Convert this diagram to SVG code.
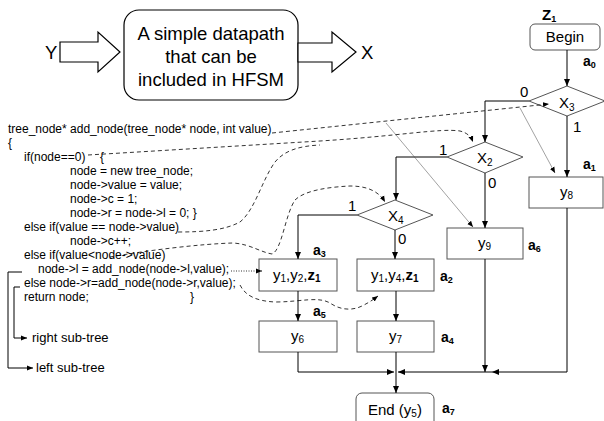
<svg xmlns="http://www.w3.org/2000/svg" width="604" height="421" viewBox="0 0 604 421">
<defs>
<marker id="ah" markerUnits="userSpaceOnUse" markerWidth="8" markerHeight="8" refX="7" refY="4" orient="auto"><path d="M0,1 L7,4 L0,7 Z" fill="#000"/></marker>
<marker id="ahs" markerUnits="userSpaceOnUse" markerWidth="7" markerHeight="6" refX="6" refY="3" orient="auto"><path d="M0,0.5 L6,3 L0,5.5 Z" fill="#000"/></marker>
</defs>
<style>
text{font-family:"Liberation Sans",Arial,sans-serif;fill:#000}
.code{font-size:12px}
.big{font-size:18.5px}
.n{font-size:15px}
.lbl{font-size:14px;font-weight:bold}
.box{fill:#fff;stroke:#555;stroke-width:1}
.blk{fill:#fff;stroke:#000;stroke-width:1.2}
.ln{fill:none;stroke:#000;stroke-width:1}
.dash{fill:none;stroke:#000;stroke-width:0.8;stroke-dasharray:4 3}
.dot{fill:none;stroke:#000;stroke-width:0.8;stroke-dasharray:1 1.5}
.thin{fill:none;stroke:#444;stroke-width:0.5}
</style>
<rect width="604" height="421" fill="#fff"/>

<g id="datapath">
<path class="blk" d="M60,42 H98 V32 L120,52 L98,72 V62 H60 Z"/>
<text class="big" x="45" y="59">Y</text>
<rect class="blk" x="124" y="10" width="174" height="90" rx="15"/>
<text class="big" text-anchor="middle" x="211" y="40">A simple datapath</text>
<text class="big" text-anchor="middle" x="211" y="63">that can be</text>
<text class="big" text-anchor="middle" x="211" y="86">included in HFSM</text>
<path class="blk" d="M298,43 H332 V32 L356,52 L332,72 V62 H298 Z"/>
<text class="big" x="361" y="59">X</text>
</g>

<g id="code" class="code">
<text class="code" x="8" y="133">tree_node* add_node(tree_node* node, int value)</text>
<text class="code" x="8" y="147">{</text>
<text class="code" x="24" y="161">if(node==0)</text>
<text class="code" x="100" y="161">{</text>
<text class="code" x="70" y="175">node = new tree_node;</text>
<text class="code" x="70" y="189">node-&gt;value = value;</text>
<text class="code" x="70" y="203">node-&gt;c = 1;</text>
<text class="code" x="70" y="217">node-&gt;r = node-&gt;l = 0; }</text>
<text class="code" x="24" y="231">else if(value == node-&gt;value)</text>
<text class="code" x="70" y="245">node-&gt;c++;</text>
<text class="code" x="24" y="259">else if(value&lt;node-&gt;value)</text>
<text class="code" x="38" y="273">node-&gt;l = add_node(node-&gt;l,value);</text>
<text class="code" x="24" y="287">else node-&gt;r=add_node(node-&gt;r,value);</text>
<text class="code" x="24" y="301">return node;</text>
<text class="code" x="190" y="301">}</text>
</g>

<g id="subtrees">
<text x="32" y="342" style="font-size:13px">right sub-tree</text>
<text x="36" y="372" style="font-size:13px">left sub-tree</text>
</g>

<g id="begin">
<text class="lbl" x="542" y="20" style="font-size:15px">Z<tspan dy="2" style="font-size:9px">1</tspan></text>
<rect class="box" x="530" y="24" width="70" height="26" rx="5"/>
<text class="n" text-anchor="middle" x="565" y="42">Begin</text>
<text class="lbl" x="583" y="66">a<tspan dy="2" style="font-size:9px">0</tspan></text>
</g>

<g id="x3">
<path class="box" d="M567,86 L605,101 L567,116 L529,101 Z"/>
<text class="n" x="559" y="108">X<tspan dy="3" style="font-size:10px">3</tspan></text>
<text class="n" x="520" y="97">0</text>
<text class="n" x="573" y="132">1</text>
</g>

<g id="y8">
<rect class="box" x="529" y="177" width="74" height="31"/>
<text class="n" x="560" y="197">y<tspan dy="2" style="font-size:10px">8</tspan></text>
<text class="lbl" x="583" y="169">a<tspan dy="2" style="font-size:9px">1</tspan></text>
</g>

<g id="x2">
<path class="box" d="M485,142 L523,157 L485,173 L447,157 Z"/>
<text class="n" x="477" y="163">X<tspan dy="3" style="font-size:10px">2</tspan></text>
<text class="n" x="439" y="155">1</text>
<text class="n" x="488" y="188">0</text>
</g>

<g id="y9">
<rect class="box" x="447" y="228" width="76" height="31"/>
<text class="n" x="478" y="248">y<tspan dy="2" style="font-size:10px">9</tspan></text>
<text class="lbl" x="528" y="250">a<tspan dy="2" style="font-size:9px">6</tspan></text>
</g>

<g id="x4">
<path class="box" d="M395,200 L433,215 L395,230 L357,215 Z"/>
<text class="n" x="388" y="221">X<tspan dy="3" style="font-size:10px">4</tspan></text>
<text class="n" x="348" y="211">1</text>
<text class="n" x="398" y="244">0</text>
</g>

<g id="y1y2z1">
<rect class="box" x="259" y="259" width="78" height="32"/>
<text class="n" x="273" y="280">y<tspan dy="2" style="font-size:10px">1</tspan><tspan dy="-2">,y</tspan><tspan dy="2" style="font-size:10px">2</tspan><tspan dy="-2">,</tspan><tspan font-weight="bold">z</tspan><tspan dy="2" style="font-size:10px;font-weight:bold">1</tspan></text>
<text class="lbl" x="313" y="255">a<tspan dy="2" style="font-size:9px">3</tspan></text>
</g>

<g id="y1y4z1">
<rect class="box" x="357" y="259" width="77" height="32"/>
<text class="n" x="371" y="280">y<tspan dy="2" style="font-size:10px">1</tspan><tspan dy="-2">,y</tspan><tspan dy="2" style="font-size:10px">4</tspan><tspan dy="-2">,</tspan><tspan font-weight="bold">z</tspan><tspan dy="2" style="font-size:10px;font-weight:bold">1</tspan></text>
<text class="lbl" x="440" y="281">a<tspan dy="2" style="font-size:9px">2</tspan></text>
</g>

<g id="y6">
<rect class="box" x="259" y="321" width="78" height="31"/>
<text class="n" x="291" y="341">y<tspan dy="2" style="font-size:10px">6</tspan></text>
<text class="lbl" x="313" y="316">a<tspan dy="2" style="font-size:9px">5</tspan></text>
</g>

<g id="y7">
<rect class="box" x="357" y="321" width="77" height="31"/>
<text class="n" x="389" y="341">y<tspan dy="2" style="font-size:10px">7</tspan></text>
<text class="lbl" x="441" y="342">a<tspan dy="2" style="font-size:9px">4</tspan></text>
</g>

<g id="end">
<rect class="box" x="356" y="393" width="78" height="40" rx="6"/>
<text class="n" x="368" y="415">End (y<tspan dy="2" style="font-size:10px">5</tspan><tspan dy="-2">)</tspan></text>
<text class="lbl" x="442" y="413">a<tspan dy="2" style="font-size:9px">7</tspan></text>
</g>

<g id="connectors">
<path class="ln" d="M567,50 V86" marker-end="url(#ah)"/>
<path class="ln" d="M529,101 H485 V142" marker-end="url(#ah)"/>
<path class="ln" d="M567,116 V177" marker-end="url(#ah)"/>
<path class="ln" d="M447,157 H396 V200" marker-end="url(#ah)"/>
<path class="ln" d="M485,173 V228" marker-end="url(#ah)"/>
<path class="ln" d="M357,215 H298 V259" marker-end="url(#ah)"/>
<path class="ln" d="M395,230 V259" marker-end="url(#ah)"/>
<path class="ln" d="M298,291 V321" marker-end="url(#ah)"/>
<path class="ln" d="M396,291 V321" marker-end="url(#ah)"/>
<path class="ln" d="M298,352 V372 H394" marker-end="url(#ah)"/>
<path class="ln" d="M396,352 V393" marker-end="url(#ah)"/>
<path class="ln" d="M485,259 V372" marker-end="url(#ah)"/>
<path class="ln" d="M567,208 V372 H492" marker-end="url(#ah)"/>
<path class="ln" d="M492,372 H398" marker-end="url(#ah)"/>
<path class="ln" d="M14,287 H20 M14,287 V338 H27" marker-end="url(#ahs)"/>
<path class="ln" d="M8,272 H22 M8,272 V368 H33" marker-end="url(#ahs)"/>
<path class="dash" d="M272,133 L549,104" marker-end="url(#ahs)"/>
<path class="dash" d="M88,155 L320,141 C400,136 440,128 460,131 C468,133 471,137 473,142" marker-end="url(#ahs)"/>
<path class="dash" d="M178,232 C205,232 225,230 240,222 C255,210 262,180 275,162 C285,150 300,146 320,145" />
<path class="dash" d="M110,257 C150,250 200,244 233,243 C250,244 260,252 272,254 C282,250 285,215 295,200 C305,190 330,187 350,186 C365,186 378,190 385,202" marker-end="url(#ahs)"/>
<path class="dash" d="M240,285 C245,295 255,301 275,302 C300,302 318,296 330,303 C340,310 352,311 362,306 C370,302 374,299 378,296" marker-end="url(#ahs)"/>
<path class="dot" d="M231,271 H262" marker-end="url(#ahs)"/>
<path class="thin" d="M386,123 L473,227" marker-end="url(#ahs)"/>
<path class="thin" d="M520,108 L555,173" marker-end="url(#ahs)"/>
</g>
</svg>
